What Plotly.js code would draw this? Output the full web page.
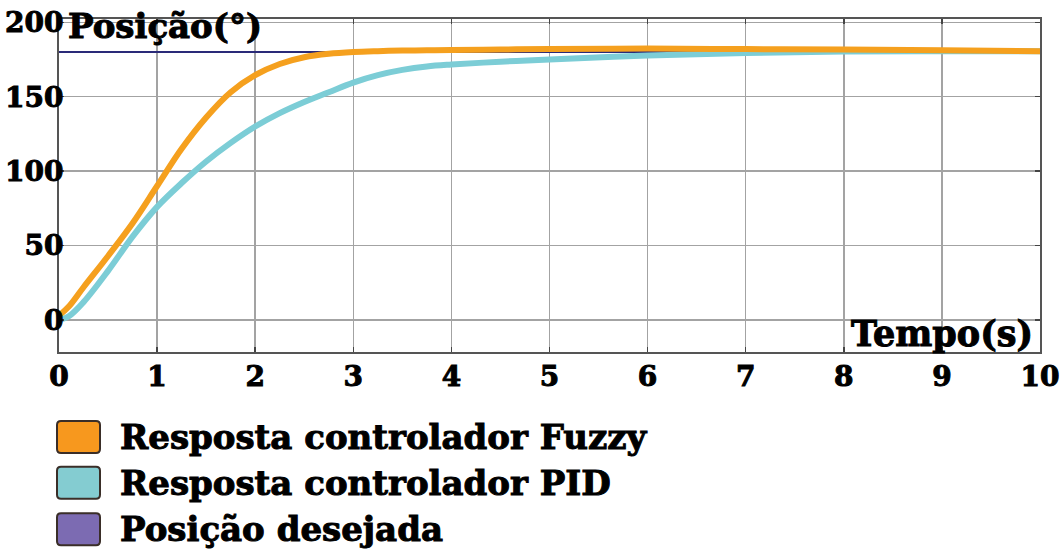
<!DOCTYPE html>
<html>
<head>
<meta charset="utf-8">
<script src="https://cdn.plot.ly/plotly-3.0.1.min.js"></script>
<style>
html,body{margin:0;padding:0;background:#fff;}
#chart{width:1061px;height:552px;}
#chart svg text{paint-order:stroke;stroke:#000;stroke-width:1px;}
</style>
</head>
<body>
<div id="chart"></div>
<script>
// ---- data ----
const tempo = [0, 0.1, 0.25, 0.5, 0.75, 1.0, 1.25, 1.5, 1.75, 2.0, 2.25, 2.5, 2.75, 3.0, 3.25, 3.5, 3.75, 4, 4.5, 5, 6, 7, 8, 9, 10];
const fuzzy = [3, 9, 22, 43, 65, 90, 115, 136, 153, 164.5, 172, 176.5, 178.8, 180, 180.6, 181, 181.2, 181.4, 181.7, 182, 182.3, 182, 181.7, 181.2, 180.6];
const pid   = [0, 2.5, 12, 33, 56, 76, 92, 106.5, 119, 130, 139, 146.5, 153, 159.5, 164.5, 168, 170.3, 171.6, 173.5, 175, 177.7, 179.3, 180.3, 180.5, 180.5];
const desejadaT = [0, 10];
const desejada  = [180, 180];
const xTicks = [0, 1, 2, 3, 4, 5, 6, 7, 8, 9, 10];
const yTicks = [0, 50, 100, 150, 200];
const seriesNames = ['Resposta controlador Fuzzy', 'Resposta controlador PID', 'Posição desejada'];
const yTitle = 'Posição(°)';
const xTitle = 'Tempo(s)';

// ---- styles ----
const lineColors = ['#F5A01E', '#7CCDD6', '#2A2A78'];
const swatchColors = ['#F7981E', '#84CCD1', '#7C6BB2'];
const FONT = 'DejaVu Serif';

const traces = [
  {x: desejadaT, y: desejada, mode: 'lines', line: {color: lineColors[2], width: 2}, name: seriesNames[2]},
  {x: tempo, y: pid, mode: 'lines', line: {color: lineColors[1], width: 6, shape: 'spline', smoothing: 1}, name: seriesNames[1]},
  {x: tempo, y: fuzzy, mode: 'lines', line: {color: lineColors[0], width: 6, shape: 'spline', smoothing: 1}, name: seriesNames[0]}
];

function roundRect(x0, y0, x1, y1, r) {
  return `M${x0 + r},${y0} L${x1 - r},${y0} Q${x1},${y0} ${x1},${y0 + r} L${x1},${y1 - r} Q${x1},${y1} ${x1 - r},${y1} ` +
         `L${x0 + r},${y1} Q${x0},${y1} ${x0},${y1 - r} L${x0},${y0 + r} Q${x0},${y0} ${x0 + r},${y0} Z`;
}

const rowY = [-0.255, -0.393, -0.532];
const shapes = [];
const annotations = [];
seriesNames.forEach((n, i) => {
  shapes.push({type: 'path', xref: 'paper', yref: 'paper', xsizemode: 'pixel', ysizemode: 'pixel',
    xanchor: 0, yanchor: rowY[i], path: roundRect(-2, -16, 41, 16, 4),
    fillcolor: swatchColors[i], line: {color: '#3a2e28', width: 2}});
  annotations.push({xref: 'paper', yref: 'paper', x: 0.060, y: rowY[i], xanchor: 'left', yanchor: 'middle',
    text: n, showarrow: false, font: {family: FONT, size: 34, weight: 700, color: '#000'}});
});
annotations.push({xref: 'paper', yref: 'paper', x: 0.995, y: 0.057, xanchor: 'right', yanchor: 'middle',
  text: xTitle, showarrow: false, font: {family: FONT, size: 35, weight: 700, color: '#000'}});

const axisCommon = {
  showline: true, mirror: 'ticks', linecolor: '#555', linewidth: 2,
  ticks: 'inside', ticklen: 5, tickcolor: '#444', tickwidth: 1.5,
  showgrid: true, gridcolor: '#a3a3a3', gridwidth: 1.5, zeroline: false,
  tickfont: {family: FONT, size: 28, weight: 700, color: '#000'}
};

const layout = {
  width: 1061, height: 552,
  margin: {l: 59, r: 21, t: 19, b: 200},
  paper_bgcolor: '#fff', plot_bgcolor: '#fff',
  showlegend: false,
  title: {text: yTitle, x: 68/1061, xanchor: 'left', xref: 'container', y: 1 - 26/552, yanchor: 'middle',
    font: {family: FONT, size: 34, weight: 700, color: '#000'}},
  xaxis: Object.assign({}, axisCommon, {range: [0, 10], tickvals: xTicks, ticktext: xTicks.map(String), ticklabelstandoff: -2}),
  yaxis: Object.assign({}, axisCommon, {range: [-21.5, 202.2], tickvals: yTicks, ticktext: yTicks.map(String), ticklabelstandoff: -12}),
  shapes: shapes,
  annotations: annotations
};

Plotly.newPlot('chart', traces, layout, {displayModeBar: false, staticPlot: true});
</script>
</body>
</html>
